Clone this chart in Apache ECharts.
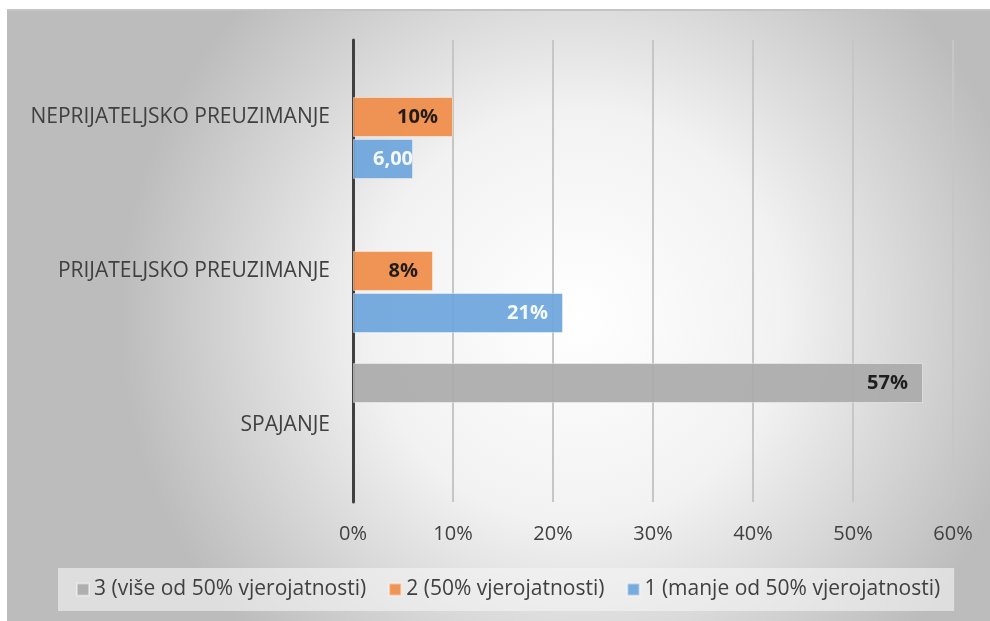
<!DOCTYPE html>
<html>
<head>
<meta charset="utf-8">
<script src="https://cdn.jsdelivr.net/npm/echarts@6/dist/echarts.min.js"></script>
<style>
    html, body { margin: 0; padding: 0; background: #fff; }
    #chart {
        position: absolute; left: 7px; top: 9px;
        width: 983px; height: 612px;
        border-top: 2px solid #c4c4c4;
        box-sizing: border-box;
    }
</style>
</head>
<body>
<div id="chart"></div>
<script>
// kategorije (odozdo prema gore)
var categories = ['SPAJANJE', 'PRIJATELJSKO PREUZIMANJE', 'NEPRIJATELJSKO PREUZIMANJE'];
var seriesNames = ['3 (više od 50% vjerojatnosti)', '2 (50% vjerojatnosti)', '1 (manje od 50% vjerojatnosti)'];
var vise = [57, null, null];
var pola = [null, 8, 10];
var manje = [null, 21, 6];
// oznake kako stoje na slici
var viseLabels = ['57%', '', ''];
var polaLabels = ['', '8%', '10%'];
var manjeLabels = ['', '21%', '6,00'];
var xTicks = [0, 10, 20, 30, 40, 50, 60];

var font = '"Open Sans", "Noto Sans", sans-serif';

function barData(vals, labels) {
    return vals.map(function (v, i) {
        var item = { value: v, txt: labels[i] };
        if (v !== null && v < 8) {
            item.label = { distance: 0 };
        }
        return item;
    });
}

function barSeries(name, vals, labels, color, labelColor) {
    return {
        name: name,
        type: 'bar',
        barWidth: 40,
        barGap: '5%',
        itemStyle: {
            color: color,
            opacity: 0.92,
            borderColor: 'rgba(255,255,255,0.45)',
            borderWidth: 1
        },
        label: {
            show: true,
            position: 'insideRight',
            distance: 15,
            color: labelColor,
            fontWeight: 'bold',
            fontSize: 20,
            fontFamily: font,
            formatter: function (p) { return p.data.txt; }
        },
        data: barData(vals, labels)
    };
}

var dom = document.getElementById('chart');
var myChart = echarts.init(dom);
var option = {
    backgroundColor: new echarts.graphic.RadialGradient(0.58, 0.5, 0.75, [
        { offset: 0, color: '#ffffff' },
        { offset: 0.45, color: '#f2f2f2' },
        { offset: 1, color: '#bcbcbc' }
    ]),
    animation: false,
    textStyle: { fontFamily: font },
    grid: {
        left: 346,
        top: 29,
        width: 600,
        height: 462
    },
    legend: {
        bottom: 10,
        left: 51,
        data: seriesNames,
        itemWidth: 12,
        itemHeight: 12,
        itemGap: 22,
        padding: [11, 14, 11, 18],
        backgroundColor: 'rgba(245,245,245,0.6)',
        icon: 'rect',
        textStyle: { color: '#404040', fontSize: 21, fontFamily: font }
    },
    xAxis: {
        type: 'value',
        min: 0,
        max: 60,
        interval: 10,
        axisLine: { show: false },
        axisTick: { show: false },
        axisLabel: {
            margin: 22,
            color: '#404040',
            fontSize: 20,
            formatter: function (v) { return xTicks.indexOf(v) >= 0 ? v + '%' : ''; }
        },
        splitLine: { lineStyle: { color: '#c6c6c6', width: 2 } }
    },
    yAxis: {
        type: 'category',
        data: categories,
        axisLine: { lineStyle: { color: '#404040', width: 3 } },
        axisTick: { show: false },
        axisLabel: { margin: 23, color: '#404040', fontSize: 21 }
    },
    series: [
        barSeries(seriesNames[0], vise, viseLabels, '#aaaaaa', '#111'),
        barSeries(seriesNames[1], pola, polaLabels, '#f08c48', '#111'),
        barSeries(seriesNames[2], manje, manjeLabels, '#6ca4db', '#fff')
    ]
};
myChart.setOption(option, true);
window.onresize = myChart.resize;
</script>
</body>
</html>
